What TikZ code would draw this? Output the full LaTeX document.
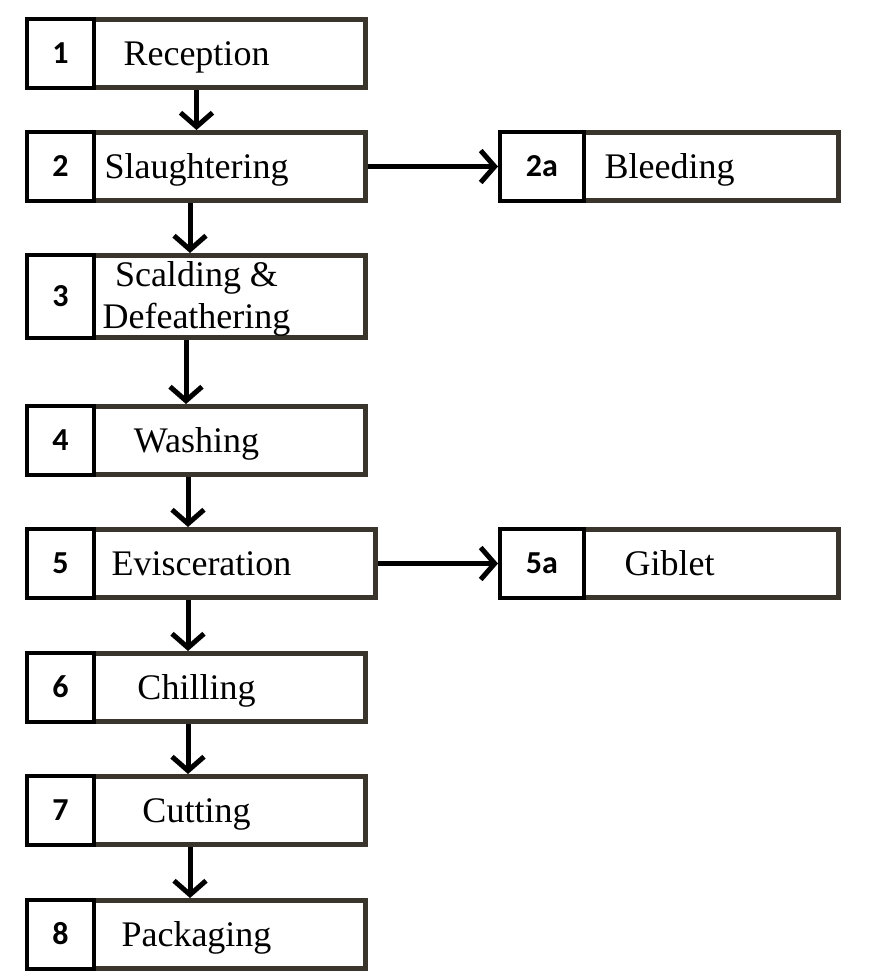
\documentclass[tikz,border=0pt]{standalone}
\usepackage{fontspec}
\setmainfont{Liberation Serif}
\newfontfamily\numfont{Carlito}
\usetikzlibrary{arrows.meta,positioning}
\definecolor{boxline}{RGB}{58,53,44}
\tikzset{
    stepbox/.style={
        rectangle,
        draw=boxline,
        line width=5pt,
        fill=white,
        minimum width=338pt,
        minimum height=68pt,
        inner sep=0pt,
        align=center,
        text height=23pt,
        text depth=0pt,
        font=\fontsize{36}{42}\selectfont,
    },
    numbox/.style={
        rectangle,
        draw=black,
        line width=4pt,
        fill=white,
        minimum width=67pt,
        inner sep=0pt,
        anchor=west,
        text height=20pt,
        text depth=0pt,
        font=\numfont\bfseries\fontsize{32}{34}\selectfont,
    },
    flow/.style={
        draw=black,
        line width=5pt,
        -{Straight Barb[length=14pt,width=32pt]},
    },
    node distance=40pt,
}
\begin{document}
\begin{tikzpicture}[x=1pt,y=-1pt]
    \useasboundingbox (0,0) rectangle (870,978);

    \node [stepbox] (S1) at (196.5,53.5) {Reception};
    \node [stepbox, below=40pt of S1] (S2) {Slaughtering};
    \node [stepbox, below=50pt of S2, minimum height=82pt, text height=63pt] (S3) {Scalding \&\\Defeathering};
    \node [stepbox, below=64pt of S3] (S4) {Washing};
    \node [stepbox, below=50pt of S4, minimum width=348pt, xshift=5pt] (S5) {Evisceration};
    \node [stepbox, below=51pt of S5, xshift=-5pt] (S6) {Chilling};
    \node [stepbox, below=50pt of S6] (S7) {Cutting};
    \node [stepbox, below=51pt of S7] (S8) {Packaging};
    \node [stepbox, right=130pt of S2] (S2a) {Bleeding};
    \node [stepbox, right=120pt of S5] (S5a) {Giblet};

    \node [numbox, minimum height=69pt] (N1) at (S1.west) {1};
    \node [numbox, minimum height=69pt] (N2) at (S2.west) {2};
    \node [numbox, minimum height=83pt] (N3) at (S3.west) {3};
    \node [numbox, minimum height=69pt] (N4) at (S4.west) {4};
    \node [numbox, minimum height=69pt] (N5) at (S5.west) {5};
    \node [numbox, minimum height=69pt] (N6) at (S6.west) {6};
    \node [numbox, minimum height=69pt] (N7) at (S7.west) {7};
    \node [numbox, minimum height=69pt] (N8) at (S8.west) {8};
    \node [numbox, minimum height=69pt, minimum width=84pt] (N2a) at (S2a.west) {2a};
    \node [numbox, minimum height=69pt, minimum width=84pt] (N5a) at (S5a.west) {5a};

    \draw [flow] (S1.south) -- (S2.north);
    \draw [flow] (S2.south -| 190,0) -- (S3.north -| 190,0);
    \draw [flow] (S3.south -| 186,0) -- (S4.north -| 186,0);
    \draw [flow] (S4.south -| 188,0) -- (S5.north -| 188,0);
    \draw [flow] (S5.south -| 188,0) -- (S6.north -| 188,0);
    \draw [flow] (S6.south -| 188,0) -- (S7.north -| 188,0);
    \draw [flow] (S7.south -| 190,0) -- (S8.north -| 190,0);
    \draw [flow] (S2.east) -- (S2a.west);
    \draw [flow] (S5.east) -- (S5a.west);
\end{tikzpicture}
\end{document}
